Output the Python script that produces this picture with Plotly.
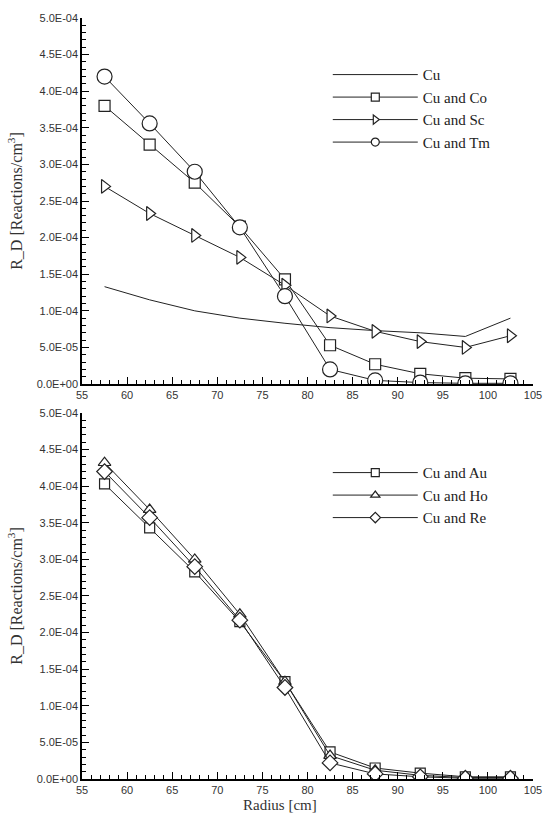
import plotly.graph_objects as go
from plotly.subplots import make_subplots

radius = [57.5, 62.5, 67.5, 72.5, 77.5, 82.5, 87.5, 92.5, 97.5, 102.5]

cu = [1.33e-4, 1.15e-4, 1.00e-4, 0.90e-4, 0.83e-4, 0.77e-4, 0.73e-4, 0.70e-4, 0.65e-4, 0.90e-4]
cu_co = [3.80e-4, 3.27e-4, 2.75e-4, 2.15e-4, 1.43e-4, 0.53e-4, 0.27e-4, 0.14e-4, 0.08e-4, 0.07e-4]
cu_sc = [2.70e-4, 2.33e-4, 2.03e-4, 1.73e-4, 1.35e-4, 0.93e-4, 0.72e-4, 0.58e-4, 0.50e-4, 0.66e-4]
cu_tm = [4.20e-4, 3.56e-4, 2.90e-4, 2.14e-4, 1.20e-4, 0.20e-4, 0.05e-4, 0.02e-4, 0.01e-4, 0.01e-4]

cu_au = [4.03e-4, 3.43e-4, 2.83e-4, 2.15e-4, 1.33e-4, 0.37e-4, 0.15e-4, 0.08e-4, 0.03e-4, 0.03e-4]
cu_ho = [4.32e-4, 3.68e-4, 3.00e-4, 2.25e-4, 1.33e-4, 0.32e-4, 0.12e-4, 0.05e-4, 0.02e-4, 0.02e-4]
cu_re = [4.20e-4, 3.57e-4, 2.90e-4, 2.17e-4, 1.25e-4, 0.22e-4, 0.07e-4, 0.03e-4, 0.01e-4, 0.01e-4]

y_tickvals = [0, 5e-5, 1e-4, 1.5e-4, 2e-4, 2.5e-4, 3e-4, 3.5e-4, 4e-4, 4.5e-4, 5e-4]
y_ticktext = ["0.0E+00", "5.0E-05", "1.0E-04", "1.5E-04", "2.0E-04", "2.5E-04",
              "3.0E-04", "3.5E-04", "4.0E-04", "4.5E-04", "5.0E-04"]
x_tickvals = [55, 60, 65, 70, 75, 80, 85, 90, 95, 100, 105]

fig = make_subplots(rows=2, cols=1, vertical_spacing=0.038)

INK = "#222222"
line = dict(color=INK, width=1)

def add(y, name, symbol, row, legend, size):
    mode = "lines" if symbol is None else "lines+markers"
    kw, lkw = {}, {}
    if symbol is not None:
        kw["marker"] = dict(symbol=symbol, size=size, color="white",
                            line=dict(color=INK, width=1.2))
        lkw["marker"] = dict(symbol=symbol, size=8, color="white",
                             line=dict(color=INK, width=1.2))
    fig.add_trace(go.Scatter(x=radius, y=y, name=name, mode=mode, line=line,
                             showlegend=False, legendgroup=name, **kw), row=row, col=1)
    # legend entry with smaller marker, as in the reference key
    fig.add_trace(go.Scatter(x=[None], y=[None], name=name, mode=mode, line=line,
                             legend=legend, legendgroup=name, **lkw), row=row, col=1)

add(cu, "Cu", None, 1, "legend", 11)
add(cu_co, "Cu and Co", "square", 1, "legend", 11)
add(cu_sc, "Cu and Sc", "triangle-right", 1, "legend", 12)
add(cu_tm, "Cu and Tm", "circle", 1, "legend", 15)
add(cu_au, "Cu and Au", "square", 2, "legend2", 10)
add(cu_ho, "Cu and Ho", "triangle-up", 2, "legend2", 11)
add(cu_re, "Cu and Re", "diamond", 2, "legend2", 12)

axis_common = dict(showline=True, linecolor="black", linewidth=1.5, ticks="inside",
                   tickcolor="black", ticklen=7, tickwidth=1.3, showgrid=False,
                   zeroline=False, mirror=False)

for r in (1, 2):
    fig.update_xaxes(range=[55, 105], tickvals=x_tickvals,
                     minor=dict(tickmode="linear", tick0=55, dtick=1, ticklen=4,
                                ticks="inside", tickcolor="black"),
                     tickfont=dict(family="Liberation Sans Narrow, Liberation Sans", size=11, color="#333"),
                     row=r, col=1, **axis_common)
    fig.update_yaxes(range=[0, 5e-4], tickvals=y_tickvals, ticktext=y_ticktext,
                     minor=dict(tickmode="linear", tick0=0, dtick=1e-5, ticklen=4,
                                ticks="inside", tickcolor="black"),
                     tickfont=dict(family="Liberation Sans", size=11, color="#333"),
                     title=dict(text="R_D [Reactions/cm<sup>3</sup>]",
                                font=dict(family="Liberation Serif", size=16, color="#333"),
                                standoff=10),
                     row=r, col=1, **axis_common)

fig.add_annotation(text="Radius [cm]", xref="paper", yref="paper",
                   x=0.438, y=-0.034, xanchor="center", yanchor="middle",
                   showarrow=False,
                   font=dict(family="Liberation Serif", size=15, color="#333"))

fig.update_layout(
    width=554, height=818,
    margin=dict(l=82, r=13, t=14, b=39),
    paper_bgcolor="white", plot_bgcolor="white",
    legend=dict(x=0.545, y=0.947, xanchor="left", yanchor="top",
                font=dict(family="Liberation Serif", size=15, color="#222"),
                bgcolor="rgba(0,0,0,0)", itemwidth=85, tracegroupgap=0),
    legend2=dict(x=0.545, y=0.424, xanchor="left", yanchor="top",
                 font=dict(family="Liberation Serif", size=15, color="#222"),
                 bgcolor="rgba(0,0,0,0)", itemwidth=85, tracegroupgap=0),
)

fig.write_html("out.html", config={"displayModeBar": False},
               post_script="document.body.style.margin='0';document.body.style.overflow='hidden';")
